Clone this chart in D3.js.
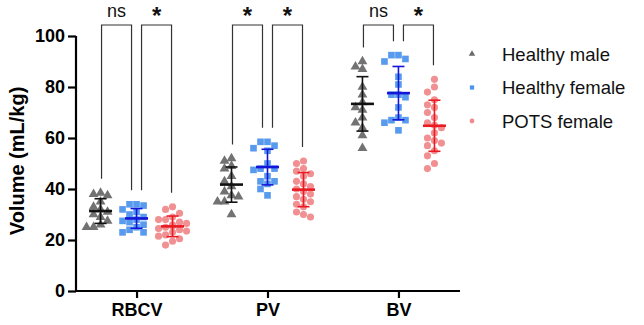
<!DOCTYPE html>
<html>
<head>
<meta charset="utf-8">
<script src="https://cdn.jsdelivr.net/npm/d3@7"></script>
<style>
  body { margin: 0; background: #fff; }
  text { font-family: "Liberation Sans", Arial, sans-serif; }
</style>
</head>
<body>
<div id="chart"></div>
<script>
const categories = ["RBCV", "PV", "BV"];
const groups = ["Healthy male", "Healthy female", "POTS female"];
const yTicks = [0, 20, 40, 60, 80, 100];

// values per category (RBCV, PV, BV)
const healthyMale = [
    [38.5, 38, 37.5, 35, 33, 32, 31, 30, 29, 27.5, 26, 25, 25],
    [52, 51, 49, 48, 45, 43, 41, 39, 37.5, 37, 35, 35, 30],
    [90, 88, 87, 80, 77, 74, 72, 71, 68, 66, 64, 61, 56]
];
const healthyFemale = [
    [34, 34, 33.5, 32, 31, 30, 29, 28, 27.5, 27, 26, 25, 24, 23, 23],
    [58.5, 58.5, 57, 56, 55, 50, 48, 47.5, 48, 45, 43, 43, 42, 40, 37.5],
    [92.5, 92.5, 91, 90, 84, 81, 77, 77, 76, 72, 68, 67, 67, 66, 63]
];
const potsFemale = [
    [33, 32, 30.5, 29, 28, 28, 27, 26.5, 26, 25.5, 25, 24.5, 24, 23.5, 23, 22, 21.5, 20.5, 19.5, 18],
    [51, 50, 48, 47, 46, 45, 43, 42, 41, 40, 39, 38, 37, 36, 35, 34, 33, 31, 30, 29],
    [83, 80, 78, 75, 73, 72, 70, 68, 66, 65, 64, 62, 60, 59, 58, 57, 55, 53, 50, 48]
];
// significance: [male vs healthy female, healthy female vs POTS]
const sigLabels = [["ns", "*"], ["*", "*"], ["ns", "*"]];

const seriesData = [healthyMale, healthyFemale, potsFemale];
const styles = [
    { symbol: d3.symbolTriangle, size: 42, fill: "#6a6a6a", line: "#111111", legendSize: 18 },
    { symbol: d3.symbolSquare, size: 44, fill: "#4f95ec", line: "#1515d8", legendSize: 18 },
    { symbol: d3.symbolCircle, size: 40, fill: "#f08a8c", line: "#ea1a22", legendSize: 18 }
];

const width = 644, height = 325;
const svg = d3.select("#chart").append("svg")
    .attr("width", width)
    .attr("height", height);

const x = d3.scalePoint().domain(categories).range([75, 460]).padding(0.47);
const xSub = d3.scalePoint().domain(groups).range([-36, 36]);
const y = d3.scaleLinear().domain([0, 100]).range([291, 36]);

// axes
const yAxis = svg.append("g")
    .attr("transform", "translate(76,0)")
    .call(d3.axisLeft(y).tickValues(yTicks).tickSize(8).tickPadding(3));
const xAxis = svg.append("g")
    .attr("transform", "translate(0,291)")
    .call(d3.axisBottom(x).tickSize(7).tickPadding(5));
[yAxis, xAxis].forEach(ax => {
    ax.select(".domain").attr("stroke", "#000").attr("stroke-width", 2.2);
    ax.selectAll(".tick line").attr("stroke", "#000").attr("stroke-width", 2.2);
    ax.selectAll(".tick text")
        .attr("fill", "#000")
        .style("font-size", "18px")
        .style("font-weight", "bold");
});
xAxis.select(".domain").attr("d", "M75,0H460");
yAxis.select(".domain").attr("d", "M0,291V36");

svg.append("text")
    .attr("transform", "translate(24," + y(51) + ") rotate(-90)")
    .attr("text-anchor", "middle")
    .style("font-size", "20px")
    .style("font-weight", "bold")
    .text("Volume (mL/kg)");

// simple column scatter: spread points with close values sideways
function spread(values, step, minGap) {
    const order = values.map((v, i) => i).sort((a, b) => values[b] - values[a]);
    const placed = [];
    const offsets = new Array(values.length).fill(0);
    order.forEach(i => {
        const py = y(values[i]);
        let best = 0, bestHits = Infinity;
        for (let k = 0; k < 5; k++) {
            const cand = (k % 2 === 0 ? 1 : -1) * Math.ceil(k / 2) * step;
            const hits = placed.filter(p => Math.abs(p.y - py) < minGap && Math.abs(p.x - cand) < step * 0.9).length;
            if (hits < bestHits) { best = cand; bestHits = hits; }
            if (hits === 0) break;
        }
        offsets[i] = best;
        placed.push({ x: best, y: py });
    });
    return offsets;
}

const meanLen = 11.5, capLen = 6;

categories.forEach((cat, ci) => {
    const tops = [];
    groups.forEach((grp, gi) => {
        const vals = seriesData[gi][ci];
        const st = styles[gi];
        const cx = x(cat) + xSub(grp);
        const offs = spread(vals, 7, 6.5);

        svg.append("g").selectAll("path")
            .data(vals)
            .enter()
            .append("path")
            .attr("d", d3.symbol().type(st.symbol).size(st.size))
            .attr("transform", (d, i) => "translate(" + (cx + offs[i]) + "," + y(d) + ")")
            .attr("fill", st.fill)
            .attr("opacity", 0.95);

        const m = d3.mean(vals), sd = d3.deviation(vals);
        const g = svg.append("g").attr("stroke", st.line).attr("fill", "none");
        g.append("line")
            .attr("x1", cx).attr("x2", cx)
            .attr("y1", y(m + sd)).attr("y2", y(m - sd))
            .attr("stroke-width", 1.6);
        [m + sd, m - sd].forEach(v => {
            g.append("line")
                .attr("x1", cx - capLen).attr("x2", cx + capLen)
                .attr("y1", y(v)).attr("y2", y(v))
                .attr("stroke-width", 1.6);
        });
        g.append("line")
            .attr("x1", cx - meanLen).attr("x2", cx + meanLen)
            .attr("y1", y(m)).attr("y2", y(m))
            .attr("stroke-width", 2.6);

        tops.push({ x: cx, y: y(d3.max(vals)) - 14 });
    });

    // significance brackets
    const bracketTop = 25;
    [[0, 1], [1, 2]].forEach(([a, b], k) => {
        const x1 = tops[a].x + (k === 1 ? 5 : 1);
        const x2 = tops[b].x - (k === 0 ? 5 : 1);
        svg.append("path")
            .attr("d", "M" + x1 + "," + tops[a].y + "V" + bracketTop + "H" + x2 + "V" + tops[b].y)
            .attr("fill", "none")
            .attr("stroke", "#333")
            .attr("stroke-width", 1.2);
        const label = sigLabels[ci][k];
        svg.append("text")
            .attr("x", (x1 + x2) / 2)
            .attr("y", label === "*" ? 24 : 17)
            .attr("text-anchor", "middle")
            .style("font-size", label === "*" ? "24px" : "18px")
            .style("font-weight", label === "*" ? "bold" : "normal")
            .attr("fill", "#111")
            .text(label);
    });
});

// legend
const legend = svg.selectAll(".legend")
    .data(groups)
    .enter()
    .append("g")
    .attr("class", "legend")
    .attr("transform", (d, i) => "translate(472," + (54 + i * 33.5) + ")");
legend.append("path")
    .attr("d", (d, i) => d3.symbol().type(styles[i].symbol).size(styles[i].legendSize)())
    .attr("fill", (d, i) => styles[i].fill);
legend.append("text")
    .attr("x", 30)
    .attr("y", 6.5)
    .style("font-size", "18.5px")
    .attr("fill", "#111")
    .text(d => d);
</script>
</body>
</html>
